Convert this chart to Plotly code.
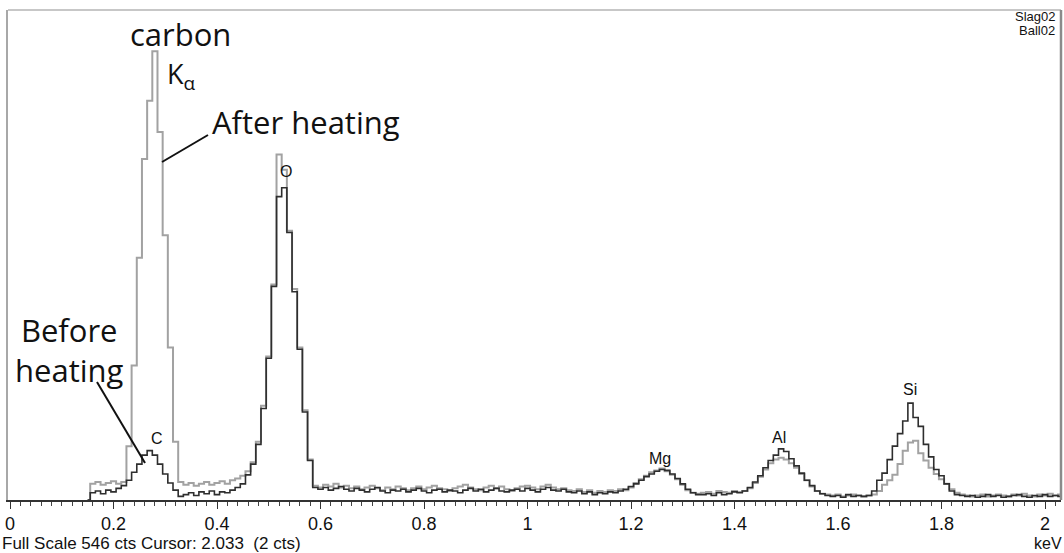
import numpy as np
import plotly.graph_objects as go

# ---- channel energies (keV), 10 eV channels ----
energy_kev = np.round(np.arange(0.15, 2.035, 0.01), 2)

# ---- counts, "After heating" (light trace) ----
after_c_region = [0, 18, 20, 17, 19, 21, 18, 20, 60, 150, 270, 380, 445, 500, 410, 295, 170, 65, 20,
                  17, 19, 16, 18, 20, 17, 19, 21, 18, 22]                      # 0.15 - 0.43
after_o_region = [24, 27, 32, 42, 65, 105, 160, 240, 385, 368, 300, 235, 170, 100, 45, 16]  # 0.44 - 0.59
after_bg1 = [14, 17, 15, 18, 14, 16, 13, 15, 12, 14, 16, 13, 11, 14, 12, 15, 13, 11, 13, 15,
             12, 14, 16, 13, 12, 10, 13, 15, 17, 14, 12, 11, 14, 16, 13, 15, 12, 10, 13, 15,
             16, 14, 12, 15, 17, 14, 12, 13, 11, 10, 12, 9, 11, 8, 10, 9, 11, 10, 12]  # 0.60 - 1.18
after_mg = [11, 14, 19, 23, 27, 31, 33, 35, 32, 28, 23, 17, 11, 8, 7]          # 1.19 - 1.33
after_bg2 = [8, 9, 7, 10, 9, 8, 10, 9]                                         # 1.34 - 1.41
after_al = [10, 13, 19, 26, 34, 41, 45, 47, 45, 41, 36, 29, 22, 15, 10, 7, 6]  # 1.42 - 1.58
after_bg3 = [5, 6, 4, 5, 6, 5, 4]                                              # 1.59 - 1.65
after_si = [5, 6, 10, 17, 22, 28, 40, 55, 64, 66, 52, 44, 36, 29, 23, 18, 12, 8, 6]  # 1.66 - 1.84
after_bg4 = [5, 4, 5, 6, 4, 5, 6, 5, 4, 6, 5, 7, 5, 4, 6, 5, 7, 5, 6]          # 1.85 - 2.03

# ---- counts, "Before heating" (dark trace) ----
before_c_region = [0, 8, 10, 7, 11, 9, 13, 16, 22, 31, 40, 50, 55, 50, 40, 29, 19, 11, 4,
                   6, 8, 5, 9, 7, 10, 6, 9, 8, 11]                              # 0.15 - 0.43
before_o_region = [14, 18, 28, 40, 62, 102, 158, 238, 338, 348, 298, 232, 168, 98, 44, 14]  # 0.44 - 0.59
before_bg1 = [12, 14, 11, 13, 15, 12, 10, 13, 11, 9, 12, 14, 10, 8, 11, 10, 12, 9, 11, 13,
              10, 8, 11, 12, 9, 11, 10, 8, 11, 13, 10, 12, 9, 11, 13, 10, 9, 11, 12, 10,
              13, 11, 9, 12, 14, 11, 10, 12, 9, 8, 10, 7, 9, 6, 8, 7, 9, 8, 10]   # 0.60 - 1.18
before_mg = [12, 15, 18, 22, 26, 29, 32, 34, 33, 29, 24, 18, 12, 8, 6]          # 1.19 - 1.33
before_bg2 = [6, 7, 5, 8, 6, 7, 9, 8]                                           # 1.34 - 1.41
before_al = [10, 14, 20, 27, 36, 44, 50, 57, 54, 46, 38, 30, 22, 16, 10, 7, 5]  # 1.42 - 1.58
before_bg3 = [4, 5, 3, 6, 4, 5, 4]                                              # 1.59 - 1.65
before_si = [5, 10, 22, 30, 45, 60, 74, 88, 108, 92, 82, 62, 48, 34, 27, 18, 10, 6, 5]  # 1.66 - 1.84
before_bg4 = [4, 5, 3, 4, 6, 4, 5, 3, 4, 5, 6, 4, 3, 5, 4, 6, 4, 5, 4]          # 1.85 - 2.03

after_counts = (after_c_region + after_o_region + after_bg1 + after_mg + after_bg2 +
                after_al + after_bg3 + after_si + after_bg4)
before_counts = (before_c_region + before_o_region + before_bg1 + before_mg + before_bg2 +
                 before_al + before_bg3 + before_si + before_bg4)

# element peak labels: (text, keV, counts)
peak_labels = [("C", 0.284, 69), ("O", 0.533, 366), ("Mg", 1.256, 46),
               ("Al", 1.486, 70), ("Si", 1.739, 123)]

FULL_SCALE = 546
X0, X1 = -0.00386, 2.0309

W, H = 1064, 553
ML, MR, MT, MB = 8, 3, 10, 53
PW, PH = W - ML - MR, H - MT - MB


def to_data(xp, yp):
    """pixel position -> data coordinates (for annotation placement)"""
    x = X0 + (xp - ML) / PW * (X1 - X0)
    y = (MT + PH - yp) / PH * FULL_SCALE
    return x, y


fig = go.Figure()
fig.add_trace(go.Scatter(x=energy_kev, y=after_counts, mode="lines", line_shape="hvh",
                         line=dict(color="#a2a2a2", width=2), name="After heating"))
fig.add_trace(go.Scatter(x=energy_kev, y=before_counts, mode="lines", line_shape="hvh",
                         line=dict(color="#2e2e2e", width=1.6), name="Before heating"))

ann = []
for t, xk, yc in peak_labels:
    ann.append(dict(x=xk, y=yc, xref="x", yref="y", text=t, showarrow=False,
                    font=dict(family="Liberation Sans, Arial", size=16, color="#111")))

big = dict(family="Open Sans, Noto Sans", size=31, color="#111")
for txt, xp, yp in [("carbon", 180, 34), ("After heating", 306, 122),
                    ("Before<br>heating", 69, 350)]:
    x, y = to_data(xp, yp)
    ann.append(dict(x=x, y=y, xref="x", yref="y", text=txt, showarrow=False, xanchor="center",
                    yanchor="middle", align="center", font=big))
x, y = to_data(165, 75)
ann.append(dict(x=x, y=y, xref="x", yref="y", text="K<sub>α</sub>", showarrow=False,
                xanchor="left", yanchor="middle",
                font=dict(family="Open Sans, Noto Sans", size=27, color="#111")))

small = dict(family="Liberation Sans, Arial", size=13, color="#111")
ann.append(dict(x=1.0, y=1.0 - 7 / PH, xref="paper", yref="paper", text="Slag02", showarrow=False,
                xanchor="right", yanchor="middle", font=small, xshift=-4))
ann.append(dict(x=1.0, y=1.0 - 21 / PH, xref="paper", yref="paper", text="Ball02", showarrow=False,
                xanchor="right", yanchor="middle", font=small, xshift=-4))
ann.append(dict(x=-ML / PW, y=-43 / PH, xref="paper", yref="paper",
                text="Full Scale 546 cts Cursor: 2.033  (2 cts)", showarrow=False,
                xanchor="left", yanchor="middle",
                font=dict(family="Liberation Sans, Arial", size=17, color="#111")))
ann.append(dict(x=1.0 + MR / PW, y=-43 / PH, xref="paper", yref="paper", text="keV", showarrow=False,
                xanchor="right", yanchor="middle",
                font=dict(family="Liberation Sans, Arial", size=16, color="#111")))

shapes = []
for (xa, ya), (xb, yb) in [((208, 135), (162, 162)), ((97, 382), (145, 463))]:
    x1_, y1_ = to_data(xa, ya)
    x2_, y2_ = to_data(xb, yb)
    shapes.append(dict(type="line", xref="x", yref="y", x0=x1_, y0=y1_, x1=x2_, y1=y2_,
                       line=dict(color="#111", width=2)))
# frame: top and right borders
shapes.append(dict(type="line", xref="paper", yref="paper", x0=0, y0=1, x1=1, y1=1,
                   line=dict(color="#b5b5b5", width=1.5)))
shapes.append(dict(type="line", xref="paper", yref="paper", x0=1, y0=0, x1=1, y1=1,
                   line=dict(color="#8a8a8a", width=2.5)))

fig.update_layout(
    width=W, height=H, margin=dict(l=ML, r=MR, t=MT, b=MB),
    paper_bgcolor="#ffffff", plot_bgcolor="#ffffff", showlegend=False,
    annotations=ann, shapes=shapes,
    xaxis=dict(range=[X0, X1], tickmode="linear", tick0=0, dtick=0.2, ticks="outside",
               ticklen=7, tickwidth=1, tickcolor="#333", showgrid=False, zeroline=False,
               showline=True, linecolor="#333", linewidth=1.5,
               tickfont=dict(family="Liberation Sans, Arial", size=18, color="#111"),
               minor=dict(tickmode="linear", tick0=0, dtick=0.02, ticks="outside", ticklen=4,
                          tickcolor="#444", showgrid=False)),
    yaxis=dict(range=[0, FULL_SCALE], showticklabels=False, ticks="", showgrid=False,
               zeroline=False, showline=True, linecolor="#a8a8a8", linewidth=1.5),
)

fig.write_html("out.html", config={"displayModeBar": False},
               post_script="document.body.style.margin='0';document.body.style.overflow='hidden';")
